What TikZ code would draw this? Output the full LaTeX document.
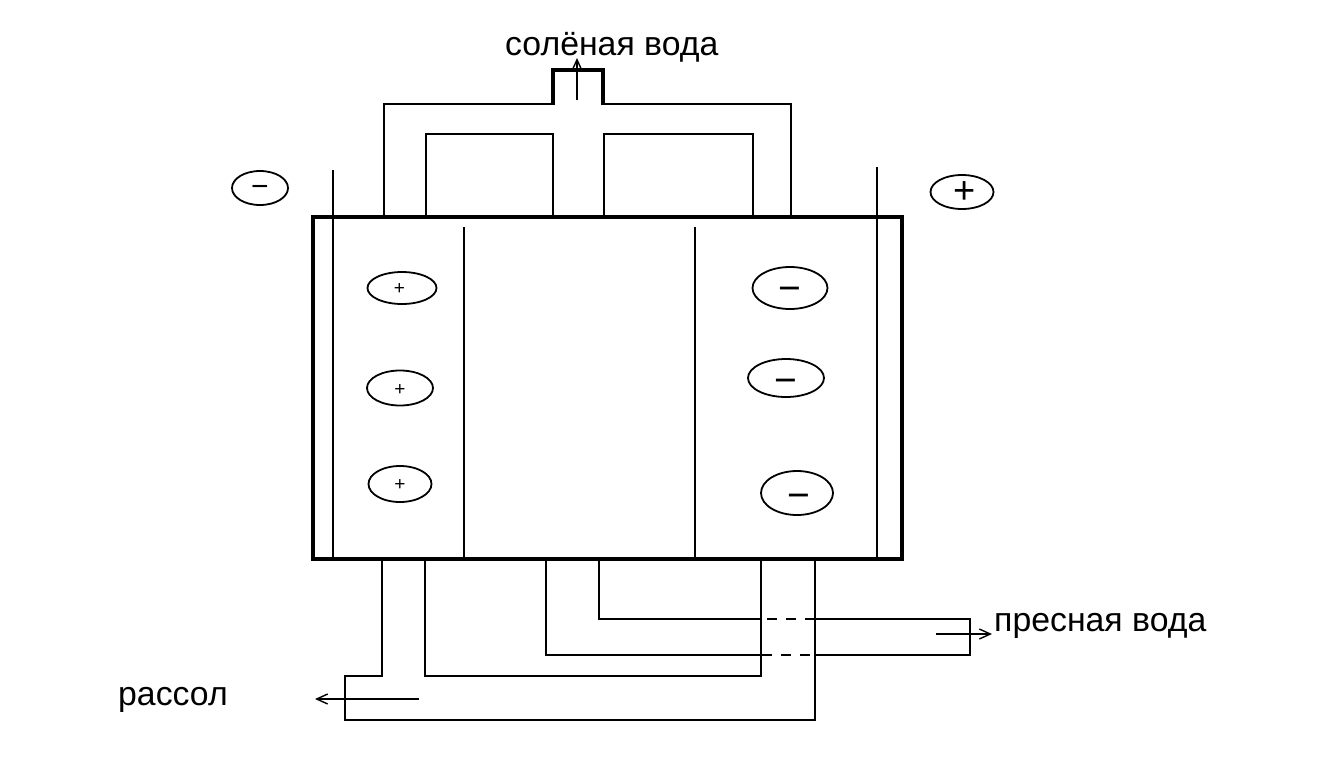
\documentclass[tikz,border=0pt]{standalone}
\usepackage{fontspec}
\setmainfont{Liberation Sans}
\usetikzlibrary{shapes.geometric,arrows.meta}
\newcommand{\lowered}[2]{\smash{\raisebox{-#1}{#2}}}
\tikzset{
  wire/.style={line width=2pt,line join=miter},
  heavy/.style={line width=4pt,line join=miter},
  flow/.style={line width=1.6pt,-{Straight Barb[length=11pt,width=10pt,line width=1.4pt]}},
  dashpart/.style={line width=2pt,dash pattern=on 10pt off 9pt},
  ion/.style={draw,ellipse,line width=1.8pt,inner sep=0pt,minimum width=#1,font=\fontsize{19}{19}\selectfont},
  lbl/.style={inner sep=0pt,anchor=base west,font=\fontsize{33.8}{34}\selectfont}
}
\begin{document}
\begin{tikzpicture}[x=1pt,y=-1pt]
\useasboundingbox (0,0) rectangle (1320,780);
% cell
\node[draw,heavy,minimum width=589pt,minimum height=342pt,inner sep=0pt] (cell) at (607.5,388) {};
\coordinate (e1t) at (333,170); \coordinate (e1b) at (333,559);
\coordinate (e2t) at (877,167); \coordinate (e2b) at (877,559);
\coordinate (m1t) at (464,227); \coordinate (m1b) at (464,557);
\coordinate (m2t) at (695,227); \coordinate (m2b) at (695,557);
\draw[wire] (e1t) -- (e1b);
\draw[wire] (e2t) -- (e2b);
\draw[wire] (m1t) -- (m1b);
\draw[wire] (m2t) -- (m2b);
% top pipes
\draw[wire] (384,217) -- (384,104) -- (553,104);
\draw[line width=3.5pt] (553,105) -- (553,70) -- (603,70) -- (603,105);
\draw[wire] (603,104) -- (791,104) -- (791,217);
\draw[wire] (426,217) -- (426,134) -- (553,134) -- (553,217);
\draw[wire] (604,217) -- (604,134) -- (753,134) -- (753,217);
\coordinate (inS) at (577,100); \coordinate (inE) at (577,58);
\draw[flow] (inS) -- (inE);
% bottom pipes
\draw[wire] (382,559) -- (382,676) -- (345,676) -- (345,720) -- (815,720) -- (815,559);
\draw[wire] (425,559) -- (425,676) -- (761,676) -- (761,559);
\draw[wire] (546,559) -- (546,655) -- (762,655);
\draw[dashpart] (762,655) -- (815,655);
\draw[wire] (815,655) -- (970,655) -- (970,619) -- (815,619);
\draw[dashpart] (815,619) -- (762,619);
\draw[wire] (762,619) -- (599,619) -- (599,559);
\coordinate (fwS) at (936,634); \coordinate (fwE) at (992,634);
\draw[flow] (fwS) -- (fwE);
\coordinate (brS) at (419,699); \coordinate (brE) at (315,699);
\draw[flow] (brS) -- (brE);
% ions
\node[ion=56pt,minimum height=34pt,font=\fontsize{30}{30}\selectfont] (n1) at (260,188) {\lowered{8pt}{−}};
\node[ion=63pt,minimum height=34pt,font=\fontsize{38}{38}\selectfont] (p1) at (962,192) {\lowered{11pt}{\hspace*{5pt}+}};
\node[ion=69pt,minimum height=32pt] (a1) at (402,288) {\lowered{6.3pt}{+\hspace*{5pt}}};
\node[ion=66pt,minimum height=35pt] (a2) at (400,388) {\lowered{7.3pt}{+}};
\node[ion=63pt,minimum height=36pt] (a3) at (400,484) {\lowered{6.3pt}{+}};
\node[ion=75pt,minimum height=42pt,font=\fontsize{39}{39}\selectfont] (b1) at (790,288) {\lowered{13.9pt}{−}};
\node[ion=76pt,minimum height=38pt,font=\fontsize{39}{39}\selectfont] (b2) at (786,378) {\lowered{15pt}{−}};
\node[ion=72pt,minimum height=44pt,font=\fontsize{39}{39}\selectfont] (b3) at (797,493) {\lowered{15pt}{\hspace*{4pt}−}};
% labels
\node[lbl] (salt) at (505,55) {солёная вода};
\node[lbl] (fresh) at (994,631) {пресная вода};
\node[lbl] (brine) at (118,705) {рассол};
\end{tikzpicture}
\end{document}
